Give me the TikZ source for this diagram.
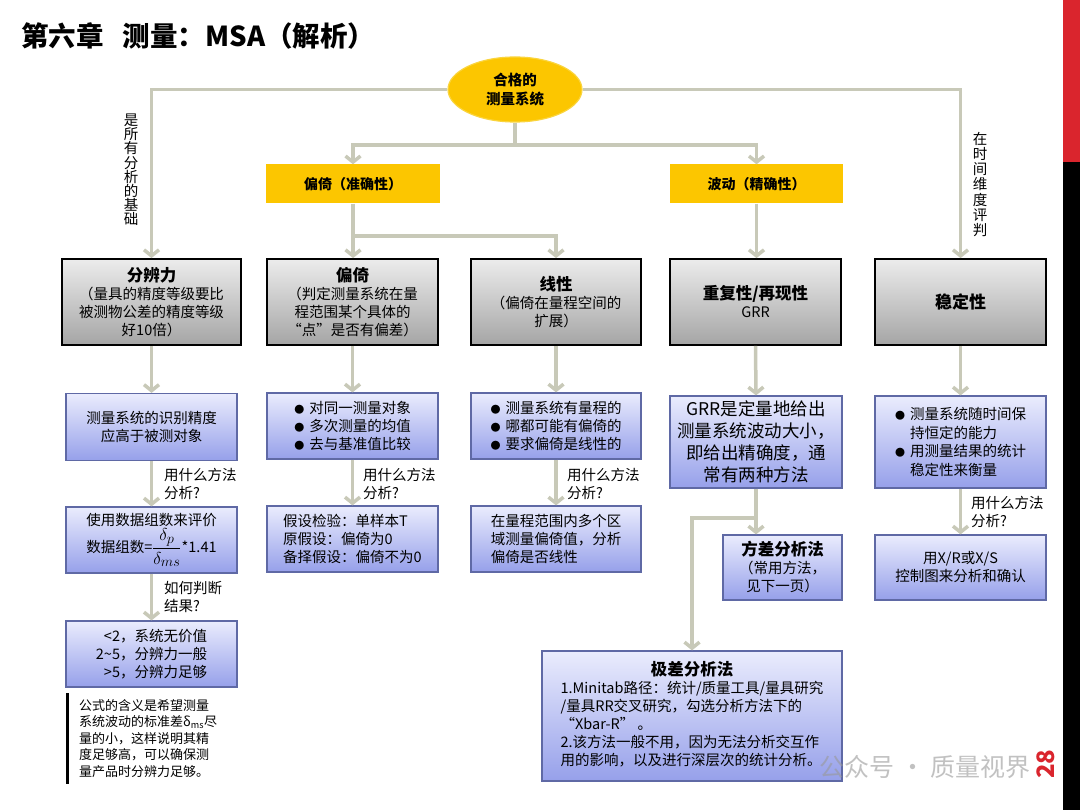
\documentclass[tikz,border=0pt]{standalone}
\usepackage{fontspec}
\setmainfont{Noto Sans CJK SC}
\usetikzlibrary{arrows.meta,shapes.geometric,calc}
\definecolor{conncol}{RGB}{200,201,184}
\definecolor{yel}{RGB}{252,198,0}
\definecolor{yelbd}{RGB}{250,212,60}
\definecolor{gtop}{RGB}{236,236,236}
\definecolor{gbot}{RGB}{165,165,165}
\definecolor{btop}{RGB}{234,236,253}
\definecolor{bbot}{RGB}{150,160,234}
\definecolor{bbd}{RGB}{95,105,165}
\definecolor{redbar}{RGB}{218,37,45}
\newcommand{\bul}{\makebox[15pt][l]{\fontsize{10}{10}\selectfont ●}}
\newcommand{\bulsp}{\hspace*{15pt}}
\newcommand{\ttlf}{\fontsize{16.5}{18}\selectfont\bfseries}
\begin{document}
\begin{tikzpicture}[x=1pt,y=-1pt,
  conn/.style={draw=conncol,line width=3.5pt},
  arr/.style={conn,-{Straight Barb[length=6pt,width=15pt]}},
  graybox/.style={draw=black,line width=1.8pt,top color=gtop,bottom color=gbot,
    align=center,inner sep=2pt,minimum height=86pt,font=\fontsize{14.5}{18}\selectfont},
  bluebox/.style={draw=bbd,line width=1.2pt,top color=btop,bottom color=bbot,
    inner sep=3pt,font=\fontsize{14.5}{18}\selectfont},
  yelbox/.style={fill=yel,minimum height=39pt,font=\fontsize{14}{16}\selectfont\bfseries},
  lbl/.style={anchor=west,align=left,inner sep=0pt,font=\fontsize{14.5}{17.5}\selectfont},
  vtext/.style={align=center,inner sep=0pt}
]
\useasboundingbox (0,0) rectangle (1080,810);
\fill[white] (0,0) rectangle (1080,810);
% side bars
\fill[redbar] (1063,0) rectangle (1080,162);
\fill[black] (1063,162) rectangle (1080,810);

% title
\node[anchor=west,inner sep=0pt,font=\fontsize{27.5}{30}\selectfont\bfseries] (title) at (21,36) {第六章\hspace{0.7em}测量：MSA（解析）};

% root
\node[ellipse,fill=yel,draw=yelbd,line width=1.2pt,minimum width=134pt,minimum height=65pt,
  align=center,inner sep=0pt,font=\fontsize{14.5}{19}\selectfont\bfseries] (ell) at (515,89.5) {合格的\\测量系统};

% yellow boxes
\node[yelbox,minimum width=174pt] (y1) at (353,184) {偏倚（准确性）};
\node[yelbox,minimum width=173pt] (y2) at (756.5,184) {波动（精确性）};

% gray boxes
\node[graybox,minimum width=179pt] (g1) at (151.5,302) {{\ttlf 分辨力}\\（量具的精度等级要比\\被测物公差的精度等级\\好10倍）};
\node[graybox,minimum width=171pt] (g2) at (352.5,302) {{\ttlf 偏倚}\\（判定测量系统在量\\程范围某个具体的\\“点”是否有偏差）};
\node[graybox,minimum width=170pt] (g3) at (556,302) {{\ttlf 线性}\\（偏倚在量程空间的\\扩展）};
\node[graybox,minimum width=171pt] (g4) at (755.5,302) {{\ttlf 重复性/再现性}\\GRR};
\node[graybox,minimum width=171pt] (g5) at (960.5,302) {{\fontsize{17}{18}\selectfont\bfseries 稳定性}};

% blue row 2
\node[bluebox,minimum width=171pt,minimum height=67pt,align=center] (b1) at (151.5,427) {测量系统的识别精度\\应高于被测对象};
\node[bluebox,minimum width=171pt,minimum height=66pt,align=left] (b2) at (352.5,426) {\bul 对同一测量对象\\\bul 多次测量的均值\\\bul 去与基准值比较};
\node[bluebox,minimum width=170pt,minimum height=66pt,align=left] (b3) at (556,426) {\bul 测量系统有量程的\\\bul 哪都可能有偏倚的\\\bul 要求偏倚是线性的};
\node[bluebox,minimum width=172pt,minimum height=92pt,align=center,font=\fontsize{17.5}{22}\selectfont] (b4) at (756,442) {GRR是定量地给出\\测量系统波动大小，\\即给出精确度，通\\常有两种方法};
\node[bluebox,minimum width=171pt,minimum height=92pt,align=left,font=\fontsize{14.5}{18.5}\selectfont] (b5) at (960.5,442) {\bul 测量系统随时间保\\\bulsp 持恒定的能力\\\bul 用测量结果的统计\\\bulsp 稳定性来衡量};

% blue row 3
\node[bluebox,minimum width=171pt,minimum height=66pt,align=left] (c1) at (151.5,540) {使用数据组数来评价\\[1pt]数据组数={\fontsize{19}{19}\selectfont$\displaystyle\frac{\delta_p}{\delta_{ms}}$}*1.41};
\node[bluebox,minimum width=171pt,minimum height=66pt,align=left] (c2) at (352.5,539) {假设检验：单样本T\\原假设：偏倚为0\\备择假设：偏倚不为0};
\node[bluebox,minimum width=170pt,minimum height=66pt,align=left] (c3) at (556,539) {在量程范围内多个区\\域测量偏倚值，分析\\偏倚是否线性};
\node[bluebox,minimum width=119pt,minimum height=65pt,align=center] (fc) at (782.5,567.5) {{\ttlf 方差分析法}\\（常用方法，\\见下一页）};
\node[bluebox,minimum width=171pt,minimum height=65pt,align=center] (c5) at (960.5,567.5) {用X/R或X/S\\控制图来分析和确认};

% row 4
\node[bluebox,minimum width=171pt,minimum height=66pt,align=right] (d1) at (151.5,654) {<2，系统无价值\\2\textasciitilde 5，分辨力一般\\>5，分辨力足够};
\node[bluebox,minimum width=300pt,minimum height=130pt] (jc) at (692,716) {%
  \renewcommand{\arraystretch}{1.0}%
  \begin{tabular}{@{}l@{}}
  \multicolumn{1}{@{}c@{}}{\ttlf 极差分析法}\\
  1.Minitab路径：统计/质量工具/量具研究\\
  /量具RR交叉研究，勾选分析方法下的\\
  “Xbar-R” 。\\
  2.该方法一般不用，因为无法分析交互作\\
  用的影响，以及进行深层次的统计分析。
  \end{tabular}};

% note
\node[anchor=north west,align=left,inner sep=0pt,font=\fontsize{13}{16.5}\selectfont] (note) at (79,699) {公式的含义是希望测量\\系统波动的标准差δ\textsubscript{ms}尽\\量的小，这样说明其精\\度足够高，可以确保测\\量产品时分辨力足够。};
\draw[line width=3pt] (67,693) -- (67,784);

% vertical texts
\node[vtext,font=\fontsize{14.5}{14.2}\selectfont] (vl) at (131,170) {是\\所\\有\\分\\析\\的\\基\\础};
\node[vtext,font=\fontsize{14.5}{15.3}\selectfont] (vr) at (980,184.5) {在\\时\\间\\维\\度\\评\\判};

% connectors
\draw[arr] (ell.west) -| (g1.north);
\draw[arr] (ell.east) -| (g5.north);
\coordinate (hb) at (515,145);
\draw[conn] (ell.south) -- (hb);
\draw[arr] (hb) -| (y1.north);
\draw[arr] (hb) -| (y2.north);
\draw[arr] (y1.south) -- (y1.south |- g2.north);
\coordinate (br1) at (353,236);
\draw[arr] (br1) -| (g3.north);
\draw[arr] (y2.south) -- (y2.south |- g4.north);
\draw[arr] (g1.south) -- (b1.north);
\draw[arr] (g2.south) -- (b2.north);
\draw[arr] (g3.south) -- (b3.north);
\draw[arr] (g4.south) -- (b4.north);
\draw[arr] (g5.south) -- (b5.north);
\draw[arr] (b1.south) -- (c1.north);
\draw[arr] (b2.south) -- (c2.north);
\draw[arr] (b3.south) -- (c3.north);
\draw[arr] (b5.south) -- (c5.north);
\draw[arr] (c1.south) -- (d1.north);
\draw[arr] (b4.south) -- (b4.south |- fc.north);
\coordinate (br2) at (756,518);
\draw[arr] (br2) -| (jc.north);

% labels
\node[lbl] (l1) at (164,484) {用什么方法\\分析?};
\node[lbl] (l2) at (363,484) {用什么方法\\分析?};
\node[lbl] (l3) at (567,484) {用什么方法\\分析?};
\node[lbl] (l5) at (971,512) {用什么方法\\分析?};
\node[lbl] (l6) at (164,597) {如何判断\\结果?};

% watermark and page number
\node[text=black!40,opacity=.6,inner sep=0pt,font=\fontsize{25}{25}\selectfont] (wm) at (925,767) {公众号 · 质量视界};
\node[rotate=90,text=redbar,inner sep=0pt,font=\fontsize{24}{24}\selectfont\bfseries] (pg) at (1046,764) {28};
\end{tikzpicture}
\end{document}
